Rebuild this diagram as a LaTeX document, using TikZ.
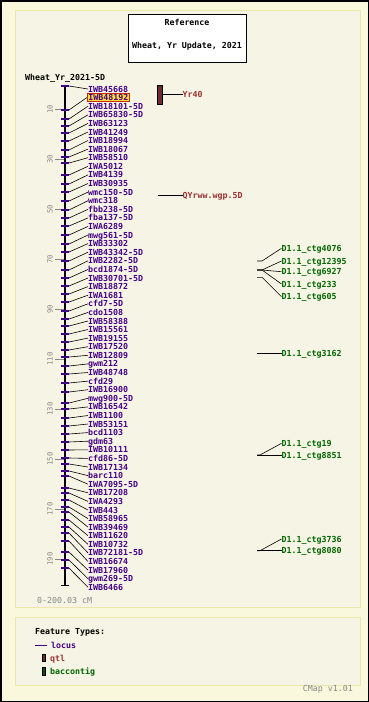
\documentclass[tikz,border=0pt]{standalone}
\usepackage{fontspec}
\setmonofont{DejaVu Sans Mono}
\usepackage{tikz}
\usetikzlibrary{positioning}

\definecolor{outerbg}{RGB}{250,248,220}
\definecolor{panelbg}{RGB}{246,244,228}
\definecolor{panelline}{RGB}{236,230,170}
\definecolor{locuscol}{RGB}{68,0,136}
\definecolor{qtlcol}{RGB}{153,51,51}
\definecolor{qtlbar}{RGB}{110,45,45}
\definecolor{ctgcol}{RGB}{0,102,0}
\definecolor{ctgbar}{RGB}{16,80,16}
\definecolor{scalecol}{RGB}{136,136,136}
\definecolor{hlfill}{RGB}{255,221,60}
\definecolor{hlline}{RGB}{200,40,0}

\begin{document}
\begin{tikzpicture}[x=1pt, y=-1pt,
    txt/.style={inner sep=0pt, text height=6pt, text depth=0pt, font=\fontsize{8.3}{9}\selectfont\ttfamily\bfseries},
    loc/.style={txt, anchor=west, text=locuscol},
    qtl/.style={txt, anchor=west, text=qtlcol},
    ctg/.style={txt, anchor=west, text=ctgcol},
    lmark/.style={locuscol, line width=1.8pt},
    conn/.style={black, line width=0.6pt},
    sc/.style={inner sep=0pt, text=scalecol, rotate=90, font=\fontsize{7.2}{8}\selectfont\ttfamily}]

			\useasboundingbox (0,0) rectangle (369,702);

			% Draw the frame and the two panels
			\draw[fill=outerbg, line width=1.5pt] (0.75,0.75) rectangle (368.25,701.25);
			\draw[fill=panelbg, draw=panelline, line width=1pt] (15,10) rectangle (360,607);
			\draw[fill=panelbg, draw=panelline, line width=1pt] (15,617) rectangle (360,685);

			% Reference box
			\draw[fill=white, line width=0.8pt] (128.5,14.5) rectangle (246.5,62.3);
			\node[txt] (reftitle) at (187,22.3) {Reference};
			\node[txt] (refmap) at (187,45.7) {Wheat, Yr Update, 2021};

			\node[txt, anchor=west] (maptitle) at (25,77.3) {Wheat\_Yr\_2021-5D};

			% Draw the scale ticks
			\draw[scalecol, line width=0.8pt] (55,109) -- (65,109); \node[sc] (s10) at (50,109) {10};
			\draw[scalecol, line width=0.8pt] (55,159) -- (65,159); \node[sc] (s30) at (50,159) {30};
			\draw[scalecol, line width=0.8pt] (55,209) -- (65,209); \node[sc] (s50) at (50,209) {50};
			\draw[scalecol, line width=0.8pt] (55,259) -- (65,259); \node[sc] (s70) at (50,259) {70};
			\draw[scalecol, line width=0.8pt] (55,309) -- (65,309); \node[sc] (s90) at (50,309) {90};
			\draw[scalecol, line width=0.8pt] (55,359) -- (65,359); \node[sc] (s110) at (50,359) {110};
			\draw[scalecol, line width=0.8pt] (55,409) -- (65,409); \node[sc] (s130) at (50,409) {130};
			\draw[scalecol, line width=0.8pt] (55,459) -- (65,459); \node[sc] (s150) at (50,459) {150};
			\draw[scalecol, line width=0.8pt] (55,509) -- (65,509); \node[sc] (s170) at (50,509) {170};
			\draw[scalecol, line width=0.8pt] (55,559) -- (65,559); \node[sc] (s190) at (50,559) {190};

			% Draw the chromosome
			\draw[line width=1.8pt] (65,85) -- (65,585);
			\draw[line width=1pt] (61,85) -- (69,85);
			\draw[line width=1pt] (61,585) -- (69,585);

			% Draw the loci and their labels
			\draw[lmark] (61,86) -- (69,86) coordinate (p1); \node[loc] (m1) at (88,89.0) {IWB45668}; \draw[conn] (p1) -- (m1.west);
			\draw[lmark] (61,110) -- (69,110) coordinate (p2); \node[loc, fill=hlfill, draw=hlline, line width=0.8pt, inner sep=1.2pt] (m2) at (86.8,97.6) {IWB48192}; \draw[conn] (p2) -- (m2.west);
			\draw[lmark] (61,119) -- (69,119) coordinate (p3); \node[loc] (m3) at (88,106.2) {IWB18101-5D}; \draw[conn] (p3) -- (m3.west);
			\draw[lmark] (61,126) -- (69,126) coordinate (p4); \node[loc] (m4) at (88,114.8) {IWB65830-5D}; \draw[conn] (p4) -- (m4.west);
			\draw[lmark] (61,133) -- (69,133) coordinate (p5); \node[loc] (m5) at (88,123.4) {IWB63123}; \draw[conn] (p5) -- (m5.west);
			\draw[lmark] (61,141) -- (69,141) coordinate (p6); \node[loc] (m6) at (88,132.0) {IWB41249}; \draw[conn] (p6) -- (m6.west);
			\draw[lmark] (61,150) -- (69,150) coordinate (p7); \node[loc] (m7) at (88,140.5) {IWB18994}; \draw[conn] (p7) -- (m7.west);
			\draw[lmark] (61,157) -- (69,157) coordinate (p8); \node[loc] (m8) at (88,149.1) {IWB18067}; \draw[conn] (p8) -- (m8.west);
			\draw[lmark] (61,163) -- (69,163) coordinate (p9); \node[loc] (m9) at (88,157.7) {IWB58510}; \draw[conn] (p9) -- (m9.west);
			\draw[lmark] (61,175) -- (69,175) coordinate (p10); \node[loc] (m10) at (88,166.3) {IWA5012}; \draw[conn] (p10) -- (m10.west);
			\draw[lmark] (61,184) -- (69,184) coordinate (p11); \node[loc] (m11) at (88,174.9) {IWB4139}; \draw[conn] (p11) -- (m11.west);
			\draw[lmark] (61,192) -- (69,192) coordinate (p12); \node[loc] (m12) at (88,183.5) {IWB30935}; \draw[conn] (p12) -- (m12.west);
			\draw[lmark] (61,201) -- (69,201) coordinate (p13); \node[loc] (m13) at (88,192.1) {wmc150-5D}; \draw[conn] (p13) -- (m13.west);
			\draw[lmark] (61,210) -- (69,210) coordinate (p14); \node[loc] (m14) at (88,200.7) {wmc318}; \draw[conn] (p14) -- (m14.west);
			\draw[lmark] (61,218) -- (69,218) coordinate (p15); \node[loc] (m15) at (88,209.3) {fbb238-5D}; \draw[conn] (p15) -- (m15.west);
			\draw[lmark] (61,226) -- (69,226) coordinate (p16); \node[loc] (m16) at (88,217.9) {fba137-5D}; \draw[conn] (p16) -- (m16.west);
			\draw[lmark] (61,235) -- (69,235) coordinate (p17); \node[loc] (m17) at (88,226.4) {IWA6289}; \draw[conn] (p17) -- (m17.west);
			\draw[lmark] (61,244) -- (69,244) coordinate (p18); \node[loc] (m18) at (88,235.0) {mwg561-5D}; \draw[conn] (p18) -- (m18.west);
			\draw[lmark] (61,252) -- (69,252) coordinate (p19); \node[loc] (m19) at (88,243.6) {IWB33302}; \draw[conn] (p19) -- (m19.west);
			\draw[lmark] (61,261) -- (69,261) coordinate (p20); \node[loc] (m20) at (88,252.2) {IWB43342-5D}; \draw[conn] (p20) -- (m20.west);
			\draw[lmark] (61,270) -- (69,270) coordinate (p21); \node[loc] (m21) at (88,260.8) {IWB2282-5D}; \draw[conn] (p21) -- (m21.west);
			\draw[lmark] (61,278) -- (69,278) coordinate (p22); \node[loc] (m22) at (88,269.4) {bcd1874-5D}; \draw[conn] (p22) -- (m22.west);
			\draw[lmark] (61,286) -- (69,286) coordinate (p23); \node[loc] (m23) at (88,278.0) {IWB30701-5D}; \draw[conn] (p23) -- (m23.west);
			\draw[lmark] (61,294) -- (69,294) coordinate (p24); \node[loc] (m24) at (88,286.6) {IWB18872}; \draw[conn] (p24) -- (m24.west);
			\draw[lmark] (61,302) -- (69,302) coordinate (p25); \node[loc] (m25) at (88,295.2) {IWA1681}; \draw[conn] (p25) -- (m25.west);
			\draw[lmark] (61,311) -- (69,311) coordinate (p26); \node[loc] (m26) at (88,303.8) {cfd7-5D}; \draw[conn] (p26) -- (m26.west);
			\draw[lmark] (61,319) -- (69,319) coordinate (p27); \node[loc] (m27) at (88,312.4) {cdo1508}; \draw[conn] (p27) -- (m27.west);
			\draw[lmark] (61,326) -- (69,326) coordinate (p28); \node[loc] (m28) at (88,321.0) {IWB58388}; \draw[conn] (p28) -- (m28.west);
			\draw[lmark] (61,334) -- (69,334) coordinate (p29); \node[loc] (m29) at (88,329.5) {IWB15561}; \draw[conn] (p29) -- (m29.west);
			\draw[lmark] (61,342) -- (69,342) coordinate (p30); \node[loc] (m30) at (88,338.1) {IWB19155}; \draw[conn] (p30) -- (m30.west);
			\draw[lmark] (61,350) -- (69,350) coordinate (p31); \node[loc] (m31) at (88,346.7) {IWB17520}; \draw[conn] (p31) -- (m31.west);
			\draw[lmark] (61,357) -- (69,357) coordinate (p32); \node[loc] (m32) at (88,355.3) {IWB12809}; \draw[conn] (p32) -- (m32.west);
			\draw[lmark] (61,366) -- (69,366) coordinate (p33); \node[loc] (m33) at (88,363.9) {gwm212}; \draw[conn] (p33) -- (m33.west);
			\draw[lmark] (61,374) -- (69,374) coordinate (p34); \node[loc] (m34) at (88,372.5) {IWB48748}; \draw[conn] (p34) -- (m34.west);
			\draw[lmark] (61,383) -- (69,383) coordinate (p35); \node[loc] (m35) at (88,381.1) {cfd29}; \draw[conn] (p35) -- (m35.west);
			\draw[lmark] (61,392) -- (69,392) coordinate (p36); \node[loc] (m36) at (88,389.7) {IWB16900}; \draw[conn] (p36) -- (m36.west);
			\draw[lmark] (61,403) -- (69,403) coordinate (p37); \node[loc] (m37) at (88,398.3) {mwg900-5D}; \draw[conn] (p37) -- (m37.west);
			\draw[lmark] (61,409) -- (69,409) coordinate (p38); \node[loc] (m38) at (88,406.9) {IWB16542}; \draw[conn] (p38) -- (m38.west);
			\draw[lmark] (61,418) -- (69,418) coordinate (p39); \node[loc] (m39) at (88,415.5) {IWB1100}; \draw[conn] (p39) -- (m39.west);
			\draw[lmark] (61,426) -- (69,426) coordinate (p40); \node[loc] (m40) at (88,424.0) {IWB53151}; \draw[conn] (p40) -- (m40.west);
			\draw[lmark] (61,434) -- (69,434) coordinate (p41); \node[loc] (m41) at (88,432.6) {bcd1103}; \draw[conn] (p41) -- (m41.west);
			\draw[lmark] (61,442) -- (69,442) coordinate (p42); \node[loc] (m42) at (88,441.2) {gdm63}; \draw[conn] (p42) -- (m42.west);
			\draw[lmark] (61,450) -- (69,450) coordinate (p43); \node[loc] (m43) at (88,449.8) {IWB10111}; \draw[conn] (p43) -- (m43.west);
			\draw[lmark] (61,458) -- (69,458) coordinate (p44); \node[loc] (m44) at (88,458.4) {cfd86-5D}; \draw[conn] (p44) -- (m44.west);
			\draw[lmark] (61,464) -- (69,464) coordinate (p45); \node[loc] (m45) at (88,467.0) {IWB17134}; \draw[conn] (p45) -- (m45.west);
			\draw[lmark] (61,471) -- (69,471) coordinate (p46); \node[loc] (m46) at (88,475.6) {barc110}; \draw[conn] (p46) -- (m46.west);
			\draw[lmark] (61,476) -- (69,476) coordinate (p47); \node[loc] (m47) at (88,484.2) {IWA7095-5D}; \draw[conn] (p47) -- (m47.west);
			\draw[lmark] (61,488) -- (69,488) coordinate (p48); \node[loc] (m48) at (88,492.8) {IWB17208}; \draw[conn] (p48) -- (m48.west);
			\draw[lmark] (61,493) -- (69,493) coordinate (p49); \node[loc] (m49) at (88,501.4) {IWA4293}; \draw[conn] (p49) -- (m49.west);
			\draw[lmark] (61,500) -- (69,500) coordinate (p50); \node[loc] (m50) at (88,510.0) {IWB443}; \draw[conn] (p50) -- (m50.west);
			\draw[lmark] (61,507) -- (69,507) coordinate (p51); \node[loc] (m51) at (88,518.6) {IWB58965}; \draw[conn] (p51) -- (m51.west);
			\draw[lmark] (61,512) -- (69,512) coordinate (p52); \node[loc] (m52) at (88,527.1) {IWB39469}; \draw[conn] (p52) -- (m52.west);
			\draw[lmark] (61,520) -- (69,520) coordinate (p53); \node[loc] (m53) at (88,535.7) {IWB11620}; \draw[conn] (p53) -- (m53.west);
			\draw[lmark] (61,527) -- (69,527) coordinate (p54); \node[loc] (m54) at (88,544.3) {IWB10732}; \draw[conn] (p54) -- (m54.west);
			\draw[lmark] (61,533) -- (69,533) coordinate (p55); \node[loc] (m55) at (88,552.9) {IWB72181-5D}; \draw[conn] (p55) -- (m55.west);
			\draw[lmark] (61,541) -- (69,541) coordinate (p56); \node[loc] (m56) at (88,561.5) {IWB16674}; \draw[conn] (p56) -- (m56.west);
			\draw[lmark] (61,552) -- (69,552) coordinate (p57); \node[loc] (m57) at (88,570.1) {IWB17960}; \draw[conn] (p57) -- (m57.west);
			\draw[lmark] (61,560) -- (69,560) coordinate (p58); \node[loc] (m58) at (88,578.7) {gwm269-5D}; \draw[conn] (p58) -- (m58.west);
			\draw[lmark] (61,568) -- (69,568) coordinate (p59); \node[loc] (m59) at (88,587.3) {IWB6466}; \draw[conn] (p59) -- (m59.west);

			\node[txt, anchor=west, text=scalecol, font=\fontsize{8.3}{9}\selectfont\ttfamily] (units) at (37,600.5) {0-200.03 cM};

			% QTL features
			\draw[fill=qtlbar, line width=0.6pt] (157.5,85) rectangle (162,104);
			\coordinate (q1) at (162,94);
			\node[qtl] (yr40) at (182.5,94) {Yr40};
			\draw[conn] (q1) -- (yr40.west);
			\coordinate (q2) at (158,195.7);
			\node[qtl] (qyr) at (182.5,195.7) {QYrww.wgp.5D};
			\draw[conn] (q2) -- (qyr.west);

			% BAC contigs
			\coordinate (f1) at (257,261); \coordinate (f2) at (257,270); \coordinate (f3) at (257,277.3);
			\node[ctg] (c1) at (281.5,248.3) {D1.1\_ctg4076};
			\node[ctg] (c2) at (281.5,261) {D1.1\_ctg12395};
			\node[ctg] (c3) at (281.5,271.7) {D1.1\_ctg6927};
			\node[ctg] (c4) at (281.5,284) {D1.1\_ctg233};
			\node[ctg] (c5) at (281.5,296.7) {D1.1\_ctg605};
			\draw[conn] (f1) -- ++(5,0) -- (c1.west);
			\draw[conn] (f2) -- ++(5,0) -- (c2.west);
			\draw[conn] (f2) -- ++(5,0) -- (c3.west);
			\draw[conn] (f2) -- ++(5,0) -- (c4.west);
			\draw[conn] (f3) -- ++(5,0) -- (c5.west);

			\coordinate (f4) at (257,353.3);
			\node[ctg] (c6) at (281.5,353.3) {D1.1\_ctg3162};
			\draw[conn] (f4) -- (c6.west);

			\coordinate (f5) at (257,455);
			\node[ctg] (c7) at (281.5,443.3) {D1.1\_ctg19};
			\node[ctg] (c8) at (281.5,455) {D1.1\_ctg8851};
			\draw[conn] (f5) -- ++(3,0) -- (c7.west);
			\draw[conn] (f5) -- (c8.west);

			\coordinate (f6) at (257,550.7);
			\node[ctg] (c9) at (281.5,539) {D1.1\_ctg3736};
			\node[ctg] (c10) at (281.5,550.7) {D1.1\_ctg8080};
			\draw[conn] (f6) -- ++(3,0) -- (c9.west);
			\draw[conn] (f6) -- (c10.west);

			% Legend
			\node[txt, anchor=west] (ftypes) at (35,631.5) {Feature Types:};
			\draw[locuscol, line width=0.8pt] (35,645) -- (47,645);
			\node[loc] (lglocus) at (51,645) {locus};
			\draw[fill=qtlbar, line width=0.5pt] (42.5,654.5) rectangle (45.5,661.5);
			\node[qtl] (lgqtl) at (50,658) {qtl};
			\draw[fill=ctgbar, line width=0.5pt] (42.5,667) rectangle (45.5,675);
			\node[ctg] (lgctg) at (50,671) {baccontig};

			\node[txt, anchor=east, text=scalecol, font=\fontsize{8.3}{9}\selectfont\ttfamily] (cmapver) at (353,688.3) {CMap v1.01};

		\end{tikzpicture}
\end{document}
